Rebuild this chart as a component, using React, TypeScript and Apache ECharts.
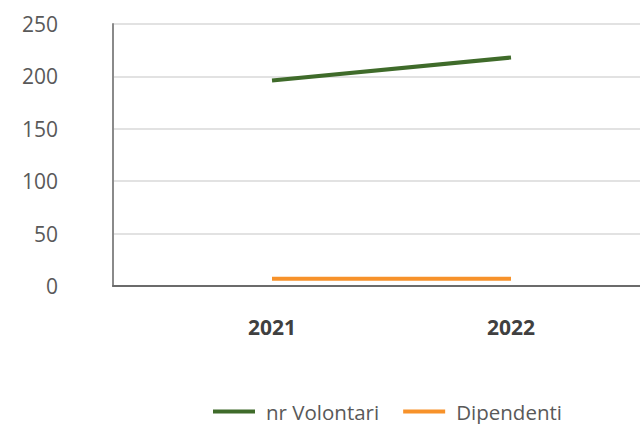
import React, { useEffect, useRef } from "react";
import * as echarts from "echarts";

const years = [2021, 2022];
const volontari = [196, 218];
const dipendenti = [7, 7];
const seriesNames = ["nr Volontari", "Dipendenti"];
const yTicks = [0, 50, 100, 150, 200, 250];

export default function App() {
  const ref = useRef<HTMLDivElement>(null);
  useEffect(() => {
    if (!ref.current) return;
    const chart = echarts.init(ref.current, null, { renderer: "svg" });
    const font = "'Open Sans', 'Noto Sans', sans-serif";
    chart.setOption({
      animation: false,
      backgroundColor: "#ffffff",
      textStyle: { fontFamily: font },
      grid: { left: 113, right: 0, top: 24, bottom: 138, containLabel: false },
      legend: {
        left: 208,
        top: 396,
        icon: "rect",
        itemWidth: 42,
        itemHeight: 4,
        itemGap: 24,
        textStyle: { fontSize: 20.5, color: "#595959", fontFamily: font, padding: [0, 0, 0, 6] },
        data: seriesNames,
      },
      xAxis: {
        type: "value",
        min: 2021 - 159 / 239,
        max: 2022 + 129 / 239,
        axisLine: { show: true, lineStyle: { color: "#6b6b6b", width: 2 } },
        axisTick: { show: false },
        splitLine: { show: false },
        axisLabel: {
          customValues: years,
          formatter: (v: number) => String(Math.round(v)),
          fontSize: 21,
          fontWeight: "bold",
          color: "#404040",
          margin: 30,
          fontFamily: font,
        },
      },
      yAxis: {
        type: "value",
        min: 0,
        max: 250,
        interval: 50,
        axisLine: { show: true, lineStyle: { color: "#8a8a8a", width: 2 } },
        axisTick: { show: false },
        splitLine: { lineStyle: { color: "#d9d9d9", width: 1.5 } },
        axisLabel: {
          fontSize: 21,
          color: "#595959",
          margin: 55,
          fontFamily: font,
          formatter: (v: number) => (yTicks.includes(v) ? String(v) : ""),
        },
      },
      series: [
        {
          name: seriesNames[0],
          type: "line",
          data: years.map((y, i) => [y, volontari[i]]),
          symbol: "none",
          lineStyle: { color: "#3f6b2a", width: 4 },
          itemStyle: { color: "#3f6b2a" },
        },
        {
          name: seriesNames[1],
          type: "line",
          data: years.map((y, i) => [y, dipendenti[i]]),
          symbol: "none",
          lineStyle: { color: "#f7922a", width: 4 },
          itemStyle: { color: "#f7922a" },
        },
      ],
    });
    return () => chart.dispose();
  }, []);
  return (
    <div
      ref={ref}
      style={{ position: "fixed", left: 0, top: 0, width: 640, height: 424 }}
    />
  );
}
